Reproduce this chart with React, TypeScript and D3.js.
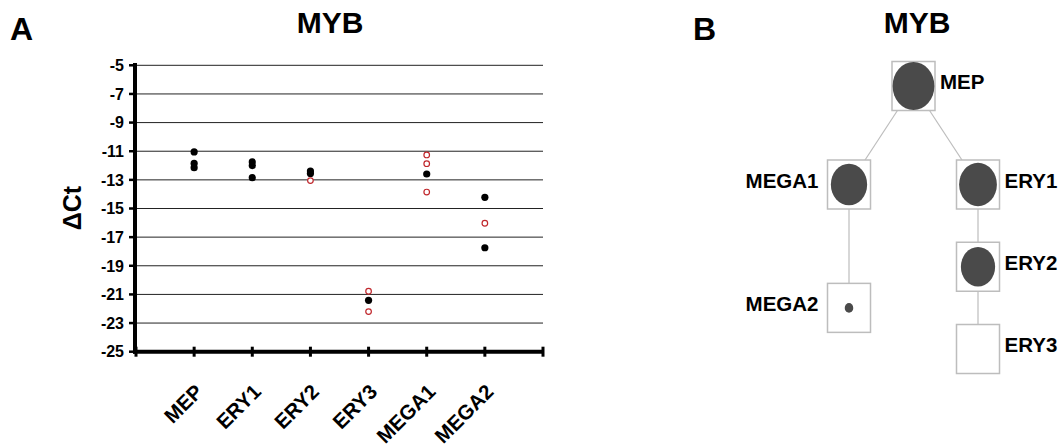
import React from "react";
import * as d3 from "d3";

const width = 1062;
const height = 447;
const font = "'Liberation Sans', Arial, sans-serif";

// panel A: delta Ct per population
const categories = ["MEP", "ERY1", "ERY2", "ERY3", "MEGA1", "MEGA2"];
// black filled dots
const filledValues = [
  [-11.05, -11.85, -12.15],
  [-11.75, -12.0, -12.85],
  [-12.38, -12.55],
  [-21.41],
  [-12.59],
  [-14.22, -17.74],
];
// red open circles
const openValues = [
  [],
  [],
  [-13.05],
  [-20.78, -22.2],
  [-11.26, -11.87, -13.85],
  [-16.03],
];
const yTicks = [-5, -7, -9, -11, -13, -15, -17, -19, -21, -23, -25];

// panel B: lineage tree (level = vertical row)
const treeNodes = [
  { name: "MEP", parent: null, level: 0 },
  { name: "MEGA1", parent: "MEP", level: 1 },
  { name: "ERY1", parent: "MEP", level: 1 },
  { name: "MEGA2", parent: "MEGA1", level: 2.5 },
  { name: "ERY2", parent: "ERY1", level: 2 },
  { name: "ERY3", parent: "ERY2", level: 3 },
];

const margin = { left: 136, right: 543, top: 65.3, bottom: 351.7 };

export default function App() {
  const x = d3.scaleLinear().domain([0, categories.length + 1]).range([margin.left, margin.right]);
  const y = d3.scaleLinear().domain([-25, -5]).range([margin.bottom, margin.top]);

  // mean of every replicate -> circle size in panel B
  const means = categories.map((c, i) => d3.mean(filledValues[i].concat(openValues[i])) as number);
  const rScale = d3.scaleLinear().domain([-17.1, d3.max(means) as number]).range([0, 24]).clamp(true);

  const root = d3
    .stratify<any>()
    .id((d) => d.name)
    .parentId((d) => d.parent)(treeNodes);
  d3.tree<any>().nodeSize([129, 1]).separation(() => 1)(root);
  const levelY = d3.scaleLinear().domain([0, 1, 3]).range([86, 184.5, 349]);
  const cx0 = 913.5;
  const nx = (n: any) => cx0 + n.x;
  const ny = (n: any) => levelY(n.data.level);
  const boxW = 43;
  const boxH = 49;

  return (
    <svg width={width} height={height} style={{ position: "absolute", left: 0, top: 0, background: "#fff" }} fontFamily={font}>
      {/* Panel A */}
      <text x={10} y={40} fontSize={32} fontWeight="bold">A</text>
      <text x={330} y={33} fontSize={30} fontWeight="bold" textAnchor="middle">MYB</text>
      <text transform="translate(81,208) rotate(-90)" fontSize={25} fontWeight="bold" textAnchor="middle">ΔCt</text>

      {yTicks.slice(0, -1).map((t) => (
        <line key={"g" + t} x1={margin.left} x2={margin.right} y1={y(t)} y2={y(t)} stroke="#222" strokeWidth={1} />
      ))}
      {yTicks.map((t) => (
        <g key={"t" + t}>
          <line x1={129} x2={136} y1={y(t)} y2={y(t)} stroke="#000" strokeWidth={2.5} />
          <text x={124} y={y(t)} dy="0.36em" fontSize={16} fontWeight="bold" textAnchor="end">{t}</text>
        </g>
      ))}
      <line x1={margin.left - 1} x2={margin.left - 1} y1={63} y2={margin.bottom + 2} stroke="#000" strokeWidth={4} />
      <line x1={margin.left - 3} x2={margin.right} y1={margin.bottom} y2={margin.bottom} stroke="#000" strokeWidth={4} />
      {d3.range(categories.length + 2).map((i) => (
        <line key={"xt" + i} x1={x(i)} x2={x(i)} y1={margin.bottom - 5} y2={margin.bottom + 5} stroke="#000" strokeWidth={3} />
      ))}
      {categories.map((c, i) => (
        <text key={c} transform={`translate(${x(i + 1) + 10},393) rotate(-45)`} fontSize={20.5} fontWeight="bold" textAnchor="end">{c}</text>
      ))}

      {categories.map((c, i) =>
        filledValues[i].map((v, j) => <circle key={c + "f" + j} cx={x(i + 1)} cy={y(v)} r={3.6} fill="#000" />)
      )}
      {categories.map((c, i) =>
        openValues[i].map((v, j) => (
          <circle key={c + "o" + j} cx={x(i + 1)} cy={y(v)} r={2.8} fill="#fff" stroke="#c0282d" strokeWidth={1.2} />
        ))
      )}

      {/* Panel B */}
      <text x={693} y={40} fontSize={32} fontWeight="bold">B</text>
      <text x={917} y={33} fontSize={30} fontWeight="bold" textAnchor="middle">MYB</text>
      {root.links().map((l: any) => (
        <line key={l.target.id} x1={nx(l.source)} y1={ny(l.source)} x2={nx(l.target)} y2={ny(l.target)} stroke="#bdbdbd" strokeWidth={1.2} />
      ))}
      {root.descendants().map((n: any) => {
        const r = rScale(means[categories.indexOf(n.id)]);
        const left = n.x < 0;
        return (
          <g key={n.id}>
            <rect x={nx(n) - boxW / 2} y={ny(n) - boxH / 2} width={boxW} height={boxH} fill="#fff" stroke="#bdbdbd" strokeWidth={1.5} />
            {r > 0 && <ellipse cx={nx(n)} cy={ny(n)} rx={r * 0.87} ry={r} fill="#4a4a4a" />}
            <text
              x={left ? nx(n) - boxW / 2 - 9 : nx(n) + boxW / 2 + 5}
              y={ny(n) + 3}
              fontSize={20.5}
              fontWeight="bold"
              textAnchor={left ? "end" : "start"}
            >
              {n.id}
            </text>
          </g>
        );
      })}
    </svg>
  );
}
